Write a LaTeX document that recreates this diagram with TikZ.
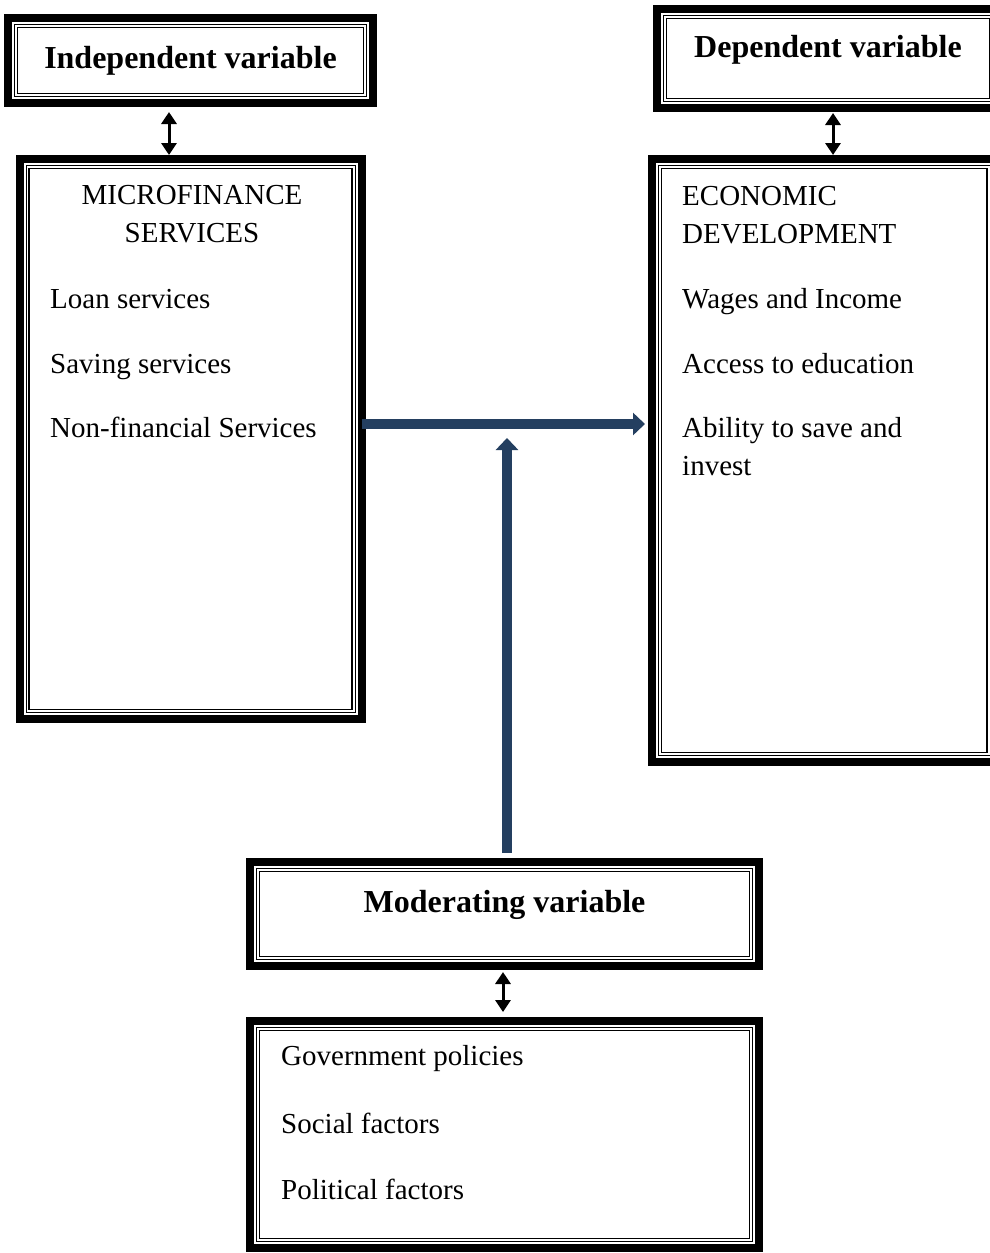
\documentclass[tikz,border=0pt]{standalone}
\usepackage{fontspec}
\setmainfont{Liberation Serif}
\usepackage{tikz}
\usetikzlibrary{arrows.meta,positioning}
\definecolor{arrownavy}{HTML}{243F60}
\tikzset{
  framebox/.style={rectangle,draw=black,line width=8pt,inner sep=0pt,outer sep=0pt},
  vartitle/.style={font=\fontsize{32}{38}\selectfont\bfseries,text height=22pt,text depth=7pt},
  itemtext/.style={font=\fontsize{29}{35}\selectfont,inner sep=0pt,anchor=base west},
  flowarrow/.style={-{Triangle[length=12pt,width=22pt]},line width=10pt,color=arrownavy},
  linkarrow/.style={{Triangle[length=12pt,width=15pt]}-{Triangle[length=12pt,width=15pt]},
    line width=3pt,color=black},
}
\newcommand\innerrules[1]{%
  \draw[line width=1pt] ([shift={(6.5,6.5)}]#1.north west) rectangle ([shift={(-6.5,-6.5)}]#1.south east);
  \draw[line width=1.6pt] ([shift={(9.5,9.5)}]#1.north west) rectangle ([shift={(-9.5,-9.5)}]#1.south east);
}

\begin{document}
\begin{tikzpicture}[x=1pt,y=-1pt]
  \useasboundingbox (0,0) rectangle (990,1253);
  \clip (0,0) rectangle (990,1253);
  \node[framebox,minimum width=365pt,minimum height=85pt,vartitle] (indep) at (190.5,60.5) {Independent variable};
  \node[framebox,minimum width=342pt,minimum height=99pt,vartitle,text depth=25pt] (dep) at (828,58.5) {Dependent variable};
  \node[framebox,minimum width=342pt,minimum height=560pt,below=56pt of indep] (micro) {};
  \node[framebox,minimum width=344.5pt,minimum height=603pt,below=51pt of dep,xshift=-3.75pt] (econ) {};
  \node[framebox,minimum width=509pt,minimum height=104pt,vartitle,text depth=25pt] (moder) at (504.5,914) {Moderating variable};
  \node[framebox,minimum width=509pt,minimum height=227pt,below=55pt of moder] (factor) {};
  \foreach \n in {indep,dep,micro,econ,moder,factor} \innerrules{\n};
  \node[itemtext,anchor=base] (microhead1) at (192,204) {MICROFINANCE};
  \node[itemtext,anchor=base] (microhead2) at (192,242) {SERVICES};
  \foreach \txt/\y [count=\i] in {Loan services/308,Saving services/373,Non-financial Services/437}
    \node[itemtext] (microitem\i) at (50,\y) {\txt};
  \foreach \txt/\y [count=\i] in {ECONOMIC/205,DEVELOPMENT/243,Wages and Income/308,
      Access to education/373,Ability to save and/437,invest/475}
    \node[itemtext] (econitem\i) at (682,\y) {\txt};
  \foreach \txt/\y [count=\i] in {Government policies/1065,Social factors/1133,Political factors/1199}
    \node[itemtext] (factoritem\i) at (281,\y) {\txt};
  \coordinate (split) at ([yshift=15pt]micro.east);
  \coordinate (join) at (507,438);
  \draw[flowarrow,shorten >=7pt] (split) -- (split -| econ.west);
  \draw[flowarrow] ([xshift=2.5pt,yshift=9pt]moder.north) -- (join);
  \coordinate (indeplink) at ([xshift=-21.5pt]indep.south);
  \coordinate (deplink) at ([xshift=5pt]dep.south);
  \coordinate (moderlink) at ([xshift=-1.5pt]moder.south);
  \draw[linkarrow,shorten <=9pt,shorten >=4pt] (indeplink) -- (indeplink |- micro.north);
  \draw[linkarrow,shorten <=5pt,shorten >=4pt] (deplink) -- (deplink |- econ.north);
  \draw[linkarrow,shorten <=6pt,shorten >=9pt] (moderlink) -- (moderlink |- factor.north);
\end{tikzpicture}
\end{document}
